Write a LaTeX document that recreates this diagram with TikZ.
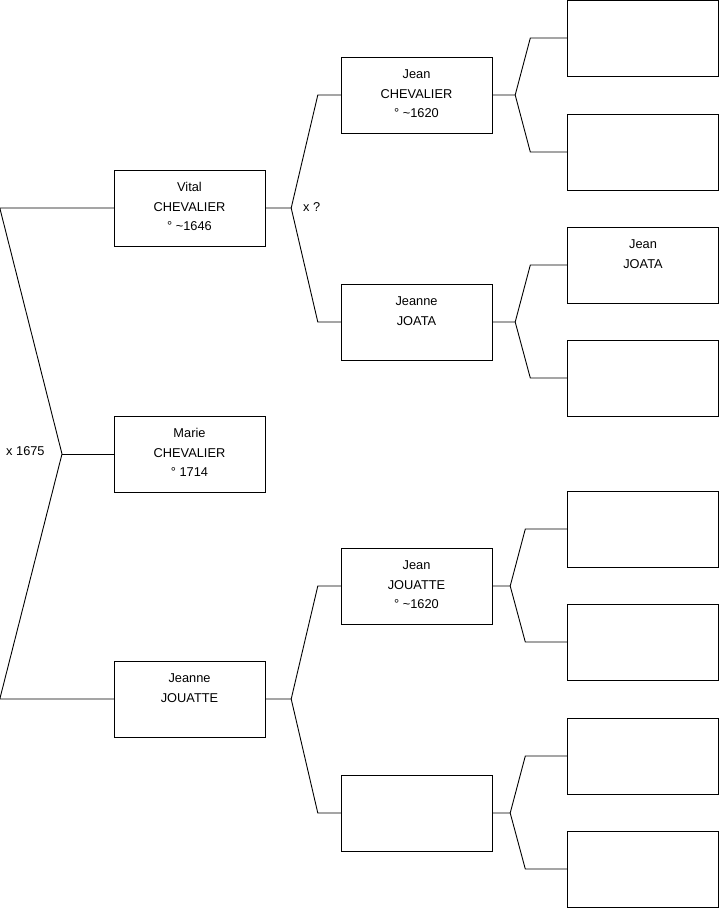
\documentclass[tikz,border=0pt]{standalone}
\usepackage{fontspec}
\setmainfont{Liberation Sans}
\usetikzlibrary{positioning}
\tikzset{person/.style={draw,rectangle,inner sep=0pt,minimum width=151pt,minimum height=76pt,
    font=\fontsize{12.8}{19.6}\selectfont},
  link/.style={line width=0.9pt},
  wedlock/.style={inner sep=0pt,anchor=west,font=\fontsize{12.8}{15}\selectfont}}
% text of a box, set from the top
\newcommand{\who}[1]{\parbox[c][76pt][t]{149pt}{\centering\rule{0pt}{21.5pt}#1}}

\begin{document}
\begin{tikzpicture}[x=1pt,y=-1pt]
\useasboundingbox (0,0) rectangle (719,908);
% generation 1
\node[person] (vital)   at (189.5,208) {\who{Vital\\CHEVALIER\\° \textasciitilde1646}};
\node[person] (marie)   at (189.5,454) {\who{Marie\\CHEVALIER\\° 1714}};
\node[person] (jouatte) at (189.5,699) {\who{Jeanne\\JOUATTE}};
% generation 2
\node[person] (jeanC) at (416.5,95)  {\who{Jean\\CHEVALIER\\° \textasciitilde1620}};
\node[person] (joata) at (416.5,322) {\who{Jeanne\\JOATA}};
\node[person] (jeanJ) at (416.5,586) {\who{Jean\\JOUATTE\\° \textasciitilde1620}};
\node[person] (anon)  at (416.5,813) {};
% generation 3
\node[person] (g1) at (643,38)  {};
\node[person] (g2) at (643,152) {};
\node[person] (g3) at (643,265) {\who{Jean\\JOATA}};
\node[person] (g4) at (643,378) {};
\node[person] (g5) at (643,529) {};
\node[person] (g6) at (643,642) {};
\node[person] (g7) at (643,756) {};
\node[person] (g8) at (643,869) {};
% marriage of the parents of Marie
\coordinate (f0) at (62,454);
\draw[link] (vital.west) -- ([xshift=-114]vital.west) -- (f0) -- ([xshift=-114]jouatte.west) -- (jouatte.west);
\draw[link] (f0) -- (marie.west);
\node[wedlock] (m0) at (6,451) {x 1675};
% forks to the parents
\foreach \p/\a/\b/\f/\e in {vital/jeanC/joata/26/23, jouatte/jeanJ/anon/26/23,
    jeanC/g1/g2/23/37, joata/g3/g4/23/37, jeanJ/g5/g6/18/42, anon/g7/g8/18/42}{
  \draw[link] (\p.east) -- ++(\f,0) coordinate (fk) -- ([xshift=-\e]\a.west) -- (\a.west);
  \draw[link] (fk) -- ([xshift=-\e]\b.west) -- (\b.west);
}
\node[wedlock] (m1) at (303,207) {x ?};
\end{tikzpicture}
\end{document}
